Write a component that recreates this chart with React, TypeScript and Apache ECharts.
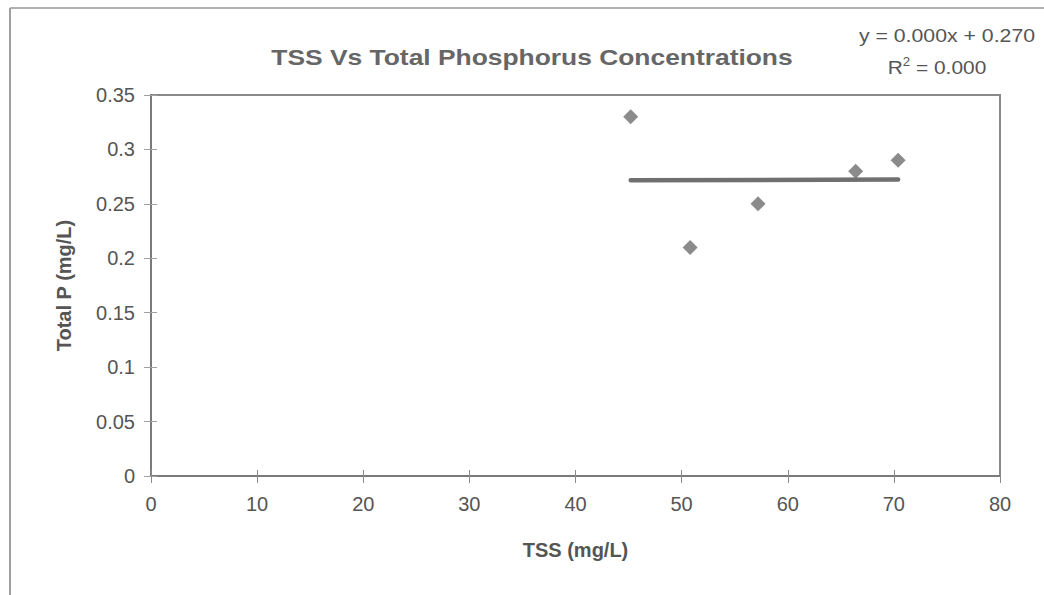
import React, { useEffect, useRef } from "react";
import * as echarts from "echarts";

const tss = [45.2, 50.8, 57.2, 66.4, 70.4];
const totalP = [0.33, 0.21, 0.25, 0.28, 0.29];
const titleText = "TSS Vs Total Phosphorus Concentrations";
const equationText = "y = 0.000x + 0.270";
const r2Value = "0.000";
const xName = "TSS (mg/L)";
const yName = "Total P (mg/L)";

function fit(xs: number[], ys: number[]) {
  const n = xs.length;
  const mx = xs.reduce((a, b) => a + b, 0) / n;
  const my = ys.reduce((a, b) => a + b, 0) / n;
  let sxy = 0, sxx = 0;
  for (let i = 0; i < n; i++) {
    sxy += (xs[i] - mx) * (ys[i] - my);
    sxx += (xs[i] - mx) * (xs[i] - mx);
  }
  const slope = sxy / sxx;
  return { slope, intercept: my - slope * mx };
}

export default function App() {
  const ref = useRef<HTMLDivElement>(null);
  useEffect(() => {
    if (!ref.current) return;
    const chart = echarts.init(ref.current, null, { renderer: "svg" });
    const { slope, intercept } = fit(tss, totalP);
    const xmin = Math.min(...tss);
    const xmax = Math.max(...tss);
    const font = "Liberation Sans, Arial, sans-serif";
    const grey = "#555555";
    const xBase = {
      type: "value",
      min: 0,
      max: 80,
      interval: 10,
      position: "bottom",
      splitLine: { show: false },
    };
    const yBase = {
      type: "value",
      min: 0,
      max: 0.35,
      interval: 0.05,
      position: "left",
      splitLine: { show: false },
    };
    chart.setOption({
      animation: false,
      backgroundColor: "#ffffff",
      grid: {
        left: 151,
        right: 44,
        top: 95,
        bottom: 119,
        show: true,
        borderColor: "#8a8a8a",
        borderWidth: 2,
      },
      xAxis: [
        {
          ...xBase,
          name: xName,
          nameLocation: "middle",
          nameGap: 64,
          nameTextStyle: { fontFamily: font, fontSize: 20, fontWeight: "bold", color: grey },
          axisLine: { show: true, onZero: false, lineStyle: { color: "#7a7a7a", width: 2 } },
          axisTick: { show: true, length: 7, lineStyle: { color: "#8a8a8a", width: 1 } },
          axisLabel: { margin: 18, fontFamily: font, fontSize: 20, color: grey },
        },
        {
          ...xBase,
          axisLine: { show: false },
          axisTick: { show: true, inside: true, length: 6, lineStyle: { color: "#8a8a8a", width: 1 } },
          axisLabel: { show: false },
        },
      ],
      yAxis: [
        {
          ...yBase,
          name: yName,
          nameLocation: "middle",
          nameGap: 77,
          nameTextStyle: { fontFamily: font, fontSize: 20, fontWeight: "bold", color: grey },
          axisLine: { show: true, onZero: false, lineStyle: { color: "#7a7a7a", width: 2 } },
          axisTick: { show: true, length: 7, lineStyle: { color: "#a0a0a0", width: 1 } },
          axisLabel: { margin: 16, fontFamily: font, fontSize: 20, color: grey },
        },
        {
          ...yBase,
          axisLine: { show: false },
          axisTick: { show: true, inside: true, length: 6, lineStyle: { color: "#a0a0a0", width: 1 } },
          axisLabel: { show: false },
        },
      ],
      series: [
        {
          type: "line",
          data: [
            [xmin, intercept + slope * xmin],
            [xmax, intercept + slope * xmax],
          ],
          showSymbol: false,
          symbol: "none",
          lineStyle: { color: "#707070", width: 4.5, cap: "round" },
          z: 2,
        },
        {
          type: "scatter",
          data: tss.map((x, i) => [x, totalP[i]]),
          symbol: "diamond",
          symbolSize: 15,
          itemStyle: { color: "#6e6e6e" },
          z: 3,
        },
      ],
      graphic: [
        { type: "line", shape: { x1: 10, y1: 8, x2: 1044, y2: 8 }, style: { stroke: "#b0b0b0", lineWidth: 2 } },
        { type: "line", shape: { x1: 10, y1: 8, x2: 10, y2: 595 }, style: { stroke: "#a0a0a0", lineWidth: 2 } },
        {
          type: "text",
          x: 532,
          y: 57,
          scaleX: 1.2,
          style: {
            text: titleText,
            fontFamily: font,
            fontSize: 22,
            fontWeight: "bold",
            fill: "#666666",
            align: "center",
            verticalAlign: "middle",
          },
        },
        {
          type: "text",
          x: 947,
          y: 35,
          scaleX: 1.12,
          style: {
            text: equationText,
            fontFamily: font,
            fontSize: 19,
            fill: grey,
            align: "center",
            verticalAlign: "middle",
          },
        },
        {
          type: "text",
          x: 937,
          y: 67,
          scaleX: 1.1,
          style: {
            text: "R{sup|2} = " + r2Value,
            fontFamily: font,
            fontSize: 19,
            fill: grey,
            align: "center",
            verticalAlign: "middle",
            rich: {
              sup: { fontFamily: font, fontSize: 12, fill: grey, verticalAlign: "top", padding: [0, 0, 9, 0] },
            },
          },
        },
      ],
    });
    return () => chart.dispose();
  }, []);
  return (
    <div
      ref={ref}
      style={{ position: "fixed", left: 0, top: 0, width: 1044, height: 595, background: "#fff" }}
    />
  );
}
